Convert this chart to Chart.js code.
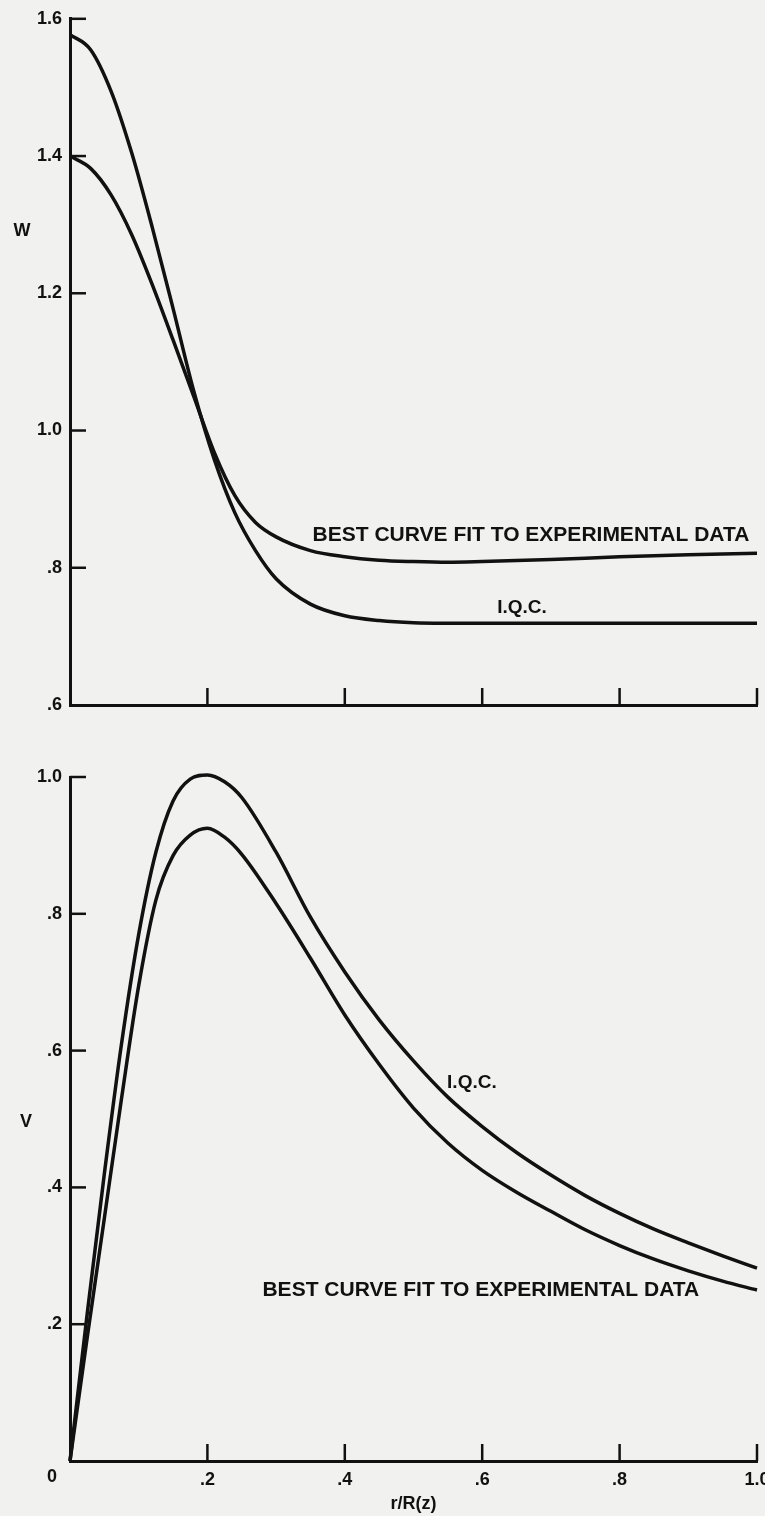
<!DOCTYPE html>
<html>
<head>
<meta charset="utf-8">
<script src="https://cdn.jsdelivr.net/npm/chart.js@4.4.1/dist/chart.umd.min.js"></script>
<style>
  html, body { margin: 0; padding: 0; }
  body { width: 765px; height: 1516px; overflow: hidden; background: #f1f1ef; position: relative; }
  canvas { position: absolute; left: 0; }
  #graficoW { top: 0; }
  #graficoV { top: 740px; }
</style>
</head>
<body>
<canvas id="graficoW" width="780" height="730"></canvas>
<canvas id="graficoV" width="780" height="776"></canvas>
<script>
// W(r) - axial profile
const wIqcR = [0, .03, .06, .09, .12, .15, .18, .21, .24, .27, .30, .35, .40, .45, .50, .60, .80, 1.0];
const wIqc  = [1.577, 1.555, 1.494, 1.404, 1.295, 1.178, 1.058, .958, .880, .825, .784, .747, .730, .723, .720, .719, .719, .719];

const wFitR = [0, .03, .06, .09, .12, .15, .18, .21, .24, .27, .30, .35, .40, .45, .50, .55, .60, .70, .80, .90, 1.0];
const wFit  = [1.40, 1.382, 1.343, 1.285, 1.212, 1.132, 1.050, .968, .905, .866, .845, .825, .816, .811, .809, .808, .809, .812, .816, .819, .821];

// V(r) - swirl profile
const vIqcR = [0, .025, .05, .075, .1, .125, .15, .175, .2, .225, .25, .3, .35, .4, .45, .5, .55, .6, .65, .7, .75, .8, .85, .9, .95, 1.0];
const vIqc  = [0, .215, .42, .61, .77, .89, .965, .997, 1.003, .993, .97, .89, .795, .715, .645, .585, .532, .489, .451, .418, .388, .362, .339, .319, .300, .282];

const vFitR = [0, .025, .05, .075, .1, .125, .15, .175, .2, .225, .25, .3, .35, .4, .45, .5, .55, .6, .65, .7, .75, .8, .85, .9, .95, 1.0];
const vFit  = [0, .18, .355, .53, .695, .82, .885, .915, .925, .912, .887, .815, .735, .652, .580, .516, .465, .425, .393, .365, .338, .315, .295, .278, .263, .25];

const rTicks = [0, .2, .4, .6, .8, 1.0];

Chart.defaults.font.family = "'Liberation Sans', Arial, sans-serif";
Chart.defaults.font.weight = 'bold';
Chart.defaults.color = '#111';

function pontos(xs, ys) {
  return xs.map((x, i) => ({ x: x, y: ys[i] }));
}

function curva(xs, ys) {
  return {
    data: pontos(xs, ys),
    borderColor: '#111',
    borderWidth: 3.5,
    pointRadius: 0,
    fill: false,
    clip: 6,
    cubicInterpolationMode: 'monotone'
  };
}

function rotulo(v) {
  const n = Math.round(v * 10) / 10;
  if (n === 0) return '';
  return n >= 1 ? n.toFixed(1) : n.toFixed(1).replace(/^0/, '');
}

// tick marks point inward, plus the free text on the plot
const marcas = {
  id: 'marcas',
  afterDraw(chart, args, opts) {
    const ctx = chart.ctx;
    const sx = chart.scales.x;
    const sy = chart.scales.y;
    const area = chart.chartArea;
    ctx.save();
    ctx.strokeStyle = '#111';
    ctx.lineWidth = 2.5;
    sx.ticks.forEach(t => {
      if (t.value === sx.min) return;
      const px = sx.getPixelForValue(t.value);
      ctx.beginPath();
      ctx.moveTo(px, area.bottom);
      ctx.lineTo(px, area.bottom - 17);
      ctx.stroke();
    });
    sy.ticks.forEach(t => {
      if (t.value === sy.min) return;
      const py = sy.getPixelForValue(t.value);
      ctx.beginPath();
      ctx.moveTo(area.left, py);
      ctx.lineTo(area.left + 16, py);
      ctx.stroke();
    });
    ctx.fillStyle = '#111';
    ctx.textAlign = 'center';
    ctx.textBaseline = 'middle';
    (opts.notas || []).forEach(n => {
      ctx.font = 'bold ' + n.size + "px 'Liberation Sans', Arial, sans-serif";
      const px = sx.getPixelForValue(n.x) + (n.dx || 0);
      const py = sy.getPixelForValue(n.y) + (n.dy || 0);
      ctx.fillText(n.text, px, py);
    });
    ctx.restore();
  }
};

function opcoes(yMin, yMax, alturaX, padTop, mostraX, notas) {
  return {
    responsive: false,
    animation: false,
    devicePixelRatio: 1,
    layout: { padding: { top: padTop, right: 23, left: 0, bottom: 0 } },
    plugins: {
      legend: { display: false },
      tooltip: { enabled: false },
      marcas: { notas: notas }
    },
    scales: {
      x: {
        type: 'linear',
        min: 0,
        max: 1,
        afterBuildTicks: s => { s.ticks = rTicks.map(v => ({ value: v })); },
        afterFit: s => { s.height = alturaX; },
        grid: { display: false, drawTicks: false },
        border: { display: true, color: '#111', width: 3 },
        ticks: {
          display: mostraX,
          padding: 8,
          font: { size: 18, weight: 'bold' },
          maxRotation: 0,
          callback: v => rotulo(v)
        },
        title: {
          display: mostraX,
          text: 'r/R(z)',
          font: { size: 18, weight: 'bold' },
          padding: { top: 0, bottom: 1 }
        }
      },
      y: {
        min: yMin,
        max: yMax,
        ticks: {
          stepSize: 0.2,
          padding: 8,
          font: { size: 18, weight: 'bold' },
          callback: v => rotulo(v)
        },
        afterFit: s => { s.width = 70; },
        grid: { display: false, drawTicks: false },
        border: { display: true, color: '#111', width: 3 }
      }
    }
  };
}

const graficoW = new Chart(document.getElementById('graficoW'), {
  type: 'line',
  data: {
    datasets: [curva(wIqcR, wIqc), curva(wFitR, wFit)]
  },
  options: opcoes(0.6, 1.6, 25, 17, false, [
    { text: 'W', x: 0, y: 1.29, dx: -48, size: 18 },
    { text: 'BEST CURVE FIT TO EXPERIMENTAL DATA', x: .671, y: .847, size: 21 },
    { text: 'I.Q.C.', x: .658, y: .741, size: 19 }
  ]),
  plugins: [marcas]
});

const graficoV = new Chart(document.getElementById('graficoV'), {
  type: 'line',
  data: {
    datasets: [curva(vIqcR, vIqc), curva(vFitR, vFit)]
  },
  options: opcoes(0, 1.0, 55, 37, true, [
    { text: 'V', x: 0, y: .495, dx: -44, size: 18 },
    { text: '0', x: 0, y: 0, dx: -18, dy: 16, size: 18 },
    { text: 'I.Q.C.', x: .585, y: .553, size: 19 },
    { text: 'BEST CURVE FIT TO EXPERIMENTAL DATA', x: .598, y: .249, size: 21 }
  ]),
  plugins: [marcas]
});
</script>
</body>
</html>
